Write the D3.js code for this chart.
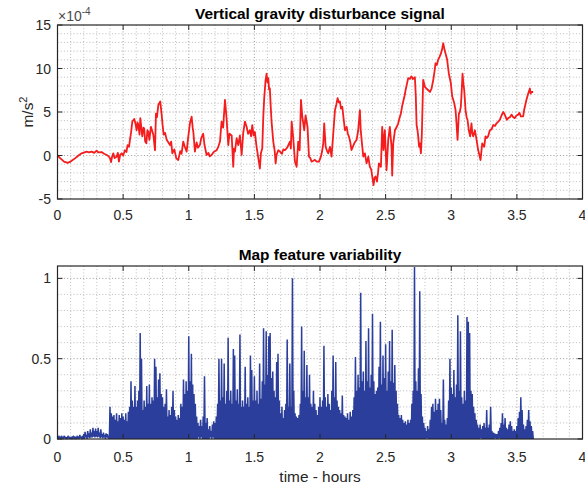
<!DOCTYPE html>
<html>
<head>
<meta charset="utf-8">
<script src="https://cdn.jsdelivr.net/npm/d3@7"></script>
<style>
  body { margin: 0; background: #fff; }
  svg { display: block; font-family: "Liberation Sans", Arial, Helvetica, sans-serif; }
</style>
</head>
<body>
<svg id="fig" width="585" height="487"></svg>
<script>
// ---- Vertical gravity disturbance (units of 1e-4 m/s^2) ----
const gravTime = [
  0.00,0.02,0.05,0.077,0.10,0.133,0.16,0.184,0.222,0.24,0.26,0.28,0.298,0.31,0.336,0.355,0.375,0.39,0.40,0.408,
  0.415,0.425,0.435,0.45,0.46,0.468,0.478,0.489,0.50,0.514,0.525,0.534,0.545,0.552,0.56,0.57,0.585,0.595,0.603,0.61,
  0.616,0.625,0.631,0.64,0.646,0.655,0.661,0.668,0.677,0.685,0.692,0.70,0.712,0.72,0.73,0.743,0.75,0.758,0.768,0.783,
  0.793,0.80,0.809,0.82,0.832,0.845,0.857,0.866,0.875,0.89,0.905,0.92,0.935,0.945,0.958,0.97,0.984,0.995,1.009,1.022,
  1.03,1.035,1.047,1.06,1.07,1.085,1.095,1.11,1.12,1.136,1.15,1.16,1.174,1.19,1.212,1.225,1.238,1.25,1.262,1.276,
  1.288,1.301,1.31,1.327,1.339,1.345,1.352,1.365,1.377,1.39,1.403,1.415,1.428,1.441,1.452,1.466,1.475,1.484,1.494,1.504,
  1.515,1.53,1.542,1.55,1.56,1.568,1.575,1.585,1.593,1.600,1.606,1.612,1.618,1.625,1.631,1.644,1.655,1.662,1.669,1.682,
  1.695,1.71,1.72,1.733,1.75,1.771,1.778,1.784,1.79,1.796,1.803,1.809,1.822,1.834,1.845,1.855,1.865,1.88,1.89,1.905,
  1.916,1.926,1.936,1.95,1.961,1.975,1.992,2.007,2.015,2.025,2.032,2.043,2.052,2.063,2.076,2.088,2.101,2.114,2.125,2.134,
  2.143,2.152,2.16,2.17,2.18,2.19,2.203,2.212,2.22,2.23,2.24,2.25,2.261,2.279,2.291,2.304,2.31,2.317,2.33,2.342,
  2.355,2.368,2.38,2.39,2.398,2.408,2.415,2.423,2.434,2.442,2.449,2.464,2.474,2.484,2.494,2.507,2.52,2.532,2.545,2.55,
  2.558,2.571,2.585,2.596,2.606,2.616,2.625,2.634,2.645,2.652,2.662,2.672,2.685,2.697,2.708,2.718,2.723,2.73,2.736,2.743,
  2.748,2.755,2.761,2.769,2.776,2.786,2.799,2.812,2.825,2.838,2.85,2.863,2.872,2.88,2.89,2.9,2.91,2.921,2.93,2.939,
  2.948,2.957,2.969,2.975,2.982,2.997,3.007,3.015,3.023,3.033,3.04,3.048,3.058,3.065,3.073,3.08,3.086,3.093,3.099,3.109,
  3.117,3.124,3.134,3.144,3.154,3.16,3.167,3.18,3.193,3.205,3.215,3.223,3.236,3.251,3.261,3.27,3.281,3.294,3.307,3.32,
  3.333,3.345,3.358,3.37,3.383,3.396,3.405,3.413,3.424,3.434,3.447,3.459,3.472,3.484,3.497,3.51,3.52,3.53,3.548,3.555,
  3.561,3.573,3.586,3.599,3.605,3.611,3.624
];
const gravValue = [
  0.0,-0.3,-0.7,-0.85,-0.7,-0.33,0.0,0.25,0.44,0.35,0.44,0.3,0.56,0.35,0.4,0.2,0.06,-0.1,-0.33,-0.75,
  -0.2,0.25,-0.3,-0.14,0.3,-0.71,0.1,0.25,0.0,0.6,0.4,1.2,1.0,1.8,2.6,3.9,4.2,3.6,2.9,3.8,
  3.5,2.4,4.3,3.0,2.2,3.2,3.1,1.6,1.4,2.9,2.7,1.8,3.3,2.9,2.4,0.6,4.8,4.4,5.8,6.2,
  4.8,3.6,2.4,2.6,1.8,1.5,1.2,1.6,0.25,0.7,-0.33,-0.52,0.5,0.2,1.6,1.0,0.44,2.0,3.7,4.46,
  3.2,2.7,0.44,1.5,0.9,1.2,2.0,2.5,1.2,0.06,0.3,-0.1,0.06,0.4,0.6,1.0,1.6,3.9,3.2,6.4,
  4.3,1.2,2.5,2.3,-1.3,0.8,0.44,2.0,1.2,2.3,0.06,2.6,3.9,3.3,2.5,2.9,2.2,3.5,2.3,2.7,
  1.2,-0.3,-1.5,0.3,0.8,4.5,6.6,8.6,9.4,8.4,8.9,7.6,7.7,5.5,3.9,1.6,0.5,-0.9,0.06,0.6,
  0.44,0.2,0.7,0.6,0.9,1.6,0.8,3.9,3.0,2.0,0.6,-0.7,-1.3,1.6,0.6,6.4,4.5,2.9,4.6,3.3,
  -0.13,-0.3,-0.7,-0.6,-0.5,-0.7,-0.7,-0.13,0.4,1.4,3.7,1.0,0.6,0.25,1.0,-0.13,2.5,5.2,5.9,6.6,
  6.1,6.2,5.4,5.6,4.2,2.9,3.3,2.5,2.2,1.6,0.63,1.0,1.4,1.8,2.9,5.2,3.0,1.8,-0.13,0.25,
  -0.9,-0.13,-1.3,-1.6,-2.4,-3.4,-2.6,-2.4,-3.0,-2.0,-0.9,-1.3,3.3,0.63,2.9,-1.7,1.8,3.3,1.0,-2.3,
  1.4,2.9,3.3,3.7,4.3,4.8,5.6,6.2,6.9,7.5,8.2,8.9,8.8,9.1,8.8,8.9,9.0,6.8,3.5,2.9,
  2.2,1.0,1.4,0.25,2.5,8.7,7.9,7.7,7.5,7.3,7.7,8.7,9.6,10.6,10.4,11.0,11.3,11.7,12.2,12.9,
  12.2,11.7,11.0,10.2,9.4,8.3,6.8,6.4,6.0,5.2,3.7,1.8,4.8,5.0,5.6,7.5,9.4,8.2,7.5,5.2,
  4.4,4.1,2.9,2.2,3.7,2.6,2.2,2.9,1.8,0.63,0.0,-0.52,1.4,1.0,2.2,2.0,2.2,2.9,3.0,3.5,
  3.4,3.7,3.9,4.1,4.6,5.0,4.8,4.5,4.1,4.3,4.4,4.7,4.4,4.3,4.6,4.7,4.9,4.5,4.5,5.2,
  5.6,6.4,7.1,7.7,7.1,7.3,7.3
];

// ---- Map feature variability, sampled every 0.01 h ----
// featPeak: local maximum in each sample, featFloor: value the trace drops back to
const featStep = 0.01;
const featPeak = [
  0.01,0.02,0.015,0.02,0.01,0.02,0.015,0.01,0.02,0.015,
  0.01,0.015,0.02,0.01,0.015,0.02,0.01,0.025,0.015,0.02,
  0.03,0.045,0.025,0.05,0.035,0.06,0.04,0.07,0.05,0.065,
  0.05,0.07,0.04,0.06,0.03,0.04,0.025,0.035,0.03,0.02,
  0.2,0.16,0.14,0.15,0.12,0.16,0.11,0.15,0.13,0.16,
  0.14,0.12,0.16,0.11,0.17,0.2,0.36,0.24,0.2,0.33,
  0.2,0.24,0.3,0.66,0.5,0.18,0.24,0.2,0.33,0.22,
  0.34,0.22,0.26,0.24,0.5,0.45,0.26,0.37,0.41,0.28,
  0.26,0.2,0.22,0.31,0.14,0.18,0.15,0.2,0.3,0.18,
  0.14,0.12,0.15,0.13,0.22,0.2,0.37,0.28,0.36,0.3,
  0.64,0.36,0.53,0.34,0.28,0.22,0.14,0.1,0.08,0.12,
  0.08,0.14,0.39,0.1,0.13,0.06,0.08,0.05,0.09,0.11,
  0.1,0.14,0.22,0.5,0.24,0.5,0.26,0.47,0.22,0.3,
  0.63,0.24,0.3,0.22,0.56,0.52,0.24,0.31,0.22,0.65,
  0.2,0.24,0.2,0.45,0.22,0.26,0.2,0.52,0.43,0.24,
  0.39,0.24,0.3,0.22,0.47,0.25,0.36,0.69,0.34,0.67,
  0.4,0.64,0.66,0.38,0.42,0.3,0.26,0.48,0.53,0.24,
  0.16,0.2,0.13,0.18,0.22,0.62,0.2,0.47,0.2,1.0,
  0.3,0.16,0.14,0.13,0.15,0.22,0.7,0.3,0.55,0.26,
  0.46,0.26,0.4,0.22,0.2,0.3,0.22,0.18,0.15,0.2,
  0.26,0.2,0.24,0.58,0.26,0.2,0.28,0.22,0.18,0.3,
  0.52,0.26,0.48,0.24,0.2,0.18,0.16,0.27,0.15,0.14,
  0.13,0.16,0.12,0.17,0.14,0.18,0.26,0.51,0.3,0.4,
  0.32,0.91,0.36,0.42,0.3,0.61,0.36,0.69,0.32,0.4,
  0.78,0.36,0.28,0.3,0.32,0.45,0.73,0.34,0.52,0.38,
  0.59,0.3,0.42,0.61,0.36,0.68,0.35,0.46,0.3,0.22,
  0.15,0.13,0.15,0.12,0.1,0.11,0.09,0.12,0.1,0.12,
  0.22,0.3,1.07,0.36,0.3,0.44,0.92,0.28,0.14,0.1,
  0.07,0.05,0.08,0.06,0.12,0.2,0.22,0.17,0.25,0.18,
  0.22,0.25,0.18,0.1,0.37,0.12,0.09,0.13,0.24,0.5,
  0.32,0.28,0.43,0.26,0.34,0.77,0.3,0.67,0.26,0.22,
  0.3,0.24,0.76,0.73,0.66,0.3,0.28,0.2,0.16,0.12,
  0.09,0.07,0.09,0.06,0.08,0.1,0.07,0.18,0.07,0.09,
  0.2,0.05,0.04,0.035,0.03,0.03,0.05,0.07,0.1,0.16,
  0.09,0.13,0.07,0.06,0.09,0.11,0.08,0.05,0.06,0.05,
  0.08,0.13,0.17,0.26,0.18,0.09,0.06,0.08,0.12,0.18,
  0.11,0.08,0.05
];
const featFloor = [
  0,0.005,0,0.01,0,0.005,0,0,0.005,0,
  0,0,0.005,0,0,0.005,0,0.005,0,0,
  0,0.01,0,0.01,0.005,0.01,0.01,0.015,0.01,0.015,
  0.01,0.015,0.005,0.01,0.005,0.01,0,0.01,0.005,0,
  0,0,0,0,0,0,0,0,0,0,
  0,0,0,0,0,0,0,0,0,0,
  0,0,0,0,0,0,0,0,0,0,
  0,0,0,0,0,0,0,0,0,0,
  0,0,0,0,0,0,0,0,0,0,
  0,0,0,0,0,0,0,0,0,0,
  0,0,0,0,0,0,0,0.01,0,0.01,
  0,0,0,0,0,0,0.01,0,0.01,0,
  0,0,0,0,0,0,0,0,0,0,
  0,0,0,0,0,0,0,0,0,0,
  0,0,0,0,0,0,0,0,0,0,
  0,0,0,0,0,0,0,0,0,0,
  0,0,0,0,0,0,0,0,0,0,
  0,0,0,0,0,0,0,0,0,0,
  0,0,0,0,0,0,0,0,0,0,
  0,0,0,0,0,0,0,0,0,0,
  0,0,0,0,0,0,0,0,0,0,
  0,0,0,0,0,0,0,0,0,0,
  0,0,0,0,0,0,0,0,0,0,
  0,0,0,0,0,0,0,0,0,0,
  0,0,0,0,0,0,0,0,0,0,
  0,0,0,0,0,0,0,0,0,0,
  0,0,0,0,0,0,0,0,0,0,
  0,0,0,0,0,0,0,0,0,0,
  0,0.005,0,0,0,0,0,0,0,0,
  0,0,0,0,0,0,0,0,0,0,
  0,0,0,0,0,0,0,0,0,0,
  0,0,0,0,0,0,0,0,0,0,
  0,0,0.005,0,0,0,0,0,0,0,
  0,0,0,0.005,0,0,0.005,0,0,0,
  0,0,0,0,0,0,0,0,0,0,
  0,0,0,0,0,0,0,0,0,0,
  0,0,0
];

// ---- Axis ticks and labels ----
const timeTicks = [0, 0.5, 1, 1.5, 2, 2.5, 3, 3.5, 4];
const gravTicks = [-5, 0, 5, 10, 15];
const featTicks = [0, 0.5, 1];

const svg = d3.select("#fig");
const axisColor = "#262626";
const W = { left: 57.5, right: 582.5 };

const x = d3.scaleLinear().domain([0, 4]).range([W.left, W.right]);
const yGrav = d3.scaleLinear().domain([-5, 15]).range([199, 25]);
const yFeat = d3.scaleLinear().domain([0, 1.077]).range([439, 266]);

function fmt(v) { return String(+v.toFixed(2)); }

function panel(y, yTicks, yMinorStep, yMax) {
  const [y0, y1] = y.domain();
  const top = y.range()[1], bottom = y.range()[0];
  const g = svg.append("g");

  // minor grid
  const xMinor = d3.range(0, 4.0001, 0.1).filter(v => Math.abs(v * 2 - Math.round(v * 2)) > 1e-6);
  const yMinor = d3.range(y0, yMax + 1e-6, yMinorStep).filter(v => !yTicks.some(t => Math.abs(t - v) < 1e-6));
  g.append("g").selectAll("line").data(xMinor).join("line")
    .attr("x1", d => x(d)).attr("x2", d => x(d)).attr("y1", top).attr("y2", bottom)
    .attr("stroke", "#ababab").attr("stroke-width", 0.8).attr("stroke-dasharray", "1,2.2");
  g.append("g").selectAll("line").data(yMinor).join("line")
    .attr("y1", d => y(d)).attr("y2", d => y(d)).attr("x1", W.left).attr("x2", W.right)
    .attr("stroke", "#ababab").attr("stroke-width", 0.8).attr("stroke-dasharray", "1,2.2");
  // major grid
  g.append("g").selectAll("line").data(timeTicks.slice(1, -1)).join("line")
    .attr("x1", d => x(d)).attr("x2", d => x(d)).attr("y1", top).attr("y2", bottom)
    .attr("stroke", "#8f8f8f").attr("stroke-width", 0.9).attr("stroke-dasharray", "1,2.2");
  g.append("g").selectAll("line").data(yTicks.filter(t => t > y0 && t < y1)).join("line")
    .attr("y1", d => y(d)).attr("y2", d => y(d)).attr("x1", W.left).attr("x2", W.right)
    .attr("stroke", "#8f8f8f").attr("stroke-width", 0.9).attr("stroke-dasharray", "1,2.2");
  return g;
}

function frame(y, yTicks, labelY) {
  const top = y.range()[1], bottom = y.range()[0];
  const g = svg.append("g");
  const tl = 5;
  // ticks on all four sides, pointing inward
  timeTicks.forEach(t => {
    g.append("line").attr("x1", x(t)).attr("x2", x(t)).attr("y1", bottom).attr("y2", bottom - tl)
      .attr("stroke", axisColor).attr("stroke-width", 1);
    g.append("line").attr("x1", x(t)).attr("x2", x(t)).attr("y1", top).attr("y2", top + tl)
      .attr("stroke", axisColor).attr("stroke-width", 1);
    g.append("text").attr("x", x(t)).attr("y", bottom + labelY)
      .attr("text-anchor", "middle").attr("font-size", 14).attr("fill", axisColor).text(fmt(t));
  });
  yTicks.forEach(t => {
    g.append("line").attr("x1", W.left).attr("x2", W.left + tl).attr("y1", y(t)).attr("y2", y(t))
      .attr("stroke", axisColor).attr("stroke-width", 1);
    g.append("line").attr("x1", W.right).attr("x2", W.right - tl).attr("y1", y(t)).attr("y2", y(t))
      .attr("stroke", axisColor).attr("stroke-width", 1);
    g.append("text").attr("x", W.left - 6.5).attr("y", y(t)).attr("dy", "0.36em")
      .attr("text-anchor", "end").attr("font-size", 14).attr("fill", axisColor).text(fmt(t));
  });
  g.append("rect").attr("x", W.left).attr("y", top).attr("width", W.right - W.left).attr("height", bottom - top)
    .attr("fill", "none").attr("stroke", axisColor).attr("stroke-width", 1.2);
}

// ---------- top panel: gravity disturbance ----------
panel(yGrav, gravTicks, 1, 15);
const gravLine = d3.line().x(d => x(d[0])).y(d => yGrav(d[1]));
svg.append("path")
  .datum(gravTime.map((t, i) => [t, gravValue[i]]))
  .attr("d", gravLine)
  .attr("fill", "none").attr("stroke", "#f41c1c").attr("stroke-width", 1.8)
  .attr("stroke-linejoin", "round");
frame(yGrav, gravTicks, 21);

svg.append("text").attr("x", (W.left + W.right) / 2).attr("y", 18.5)
  .attr("text-anchor", "middle").attr("font-size", 15.4).attr("font-weight", "bold").attr("fill", "#000")
  .text("Vertical gravity disturbance signal");

const expo = svg.append("text").attr("x", 58).attr("y", 20.5).attr("font-size", 14).attr("fill", "#4a4a4a");
expo.append("tspan").text("×10");
expo.append("tspan").attr("dy", -6).attr("font-size", 10).text("-4");

const yl = svg.append("text").attr("transform", "translate(33,112) rotate(-90)")
  .attr("text-anchor", "middle").attr("font-size", 15.4).attr("fill", axisColor);
yl.append("tspan").text("m/s");
yl.append("tspan").attr("dy", -6).attr("font-size", 11).text("2");

// ---------- bottom panel: feature variability ----------
panel(yFeat, featTicks, 0.1, 1.0);
const featPoints = [];
featPeak.forEach((p, i) => {
  featPoints.push([i * featStep, p]);
  featPoints.push([i * featStep + featStep / 2, featFloor[i]]);
});
const featLine = d3.line().x(d => x(d[0])).y(d => yFeat(d[1]));
svg.append("path")
  .datum(featPoints)
  .attr("d", featLine)
  .attr("fill", "none").attr("stroke", "#2b3e9b").attr("stroke-width", 1.5)
  .attr("stroke-linejoin", "miter").attr("stroke-miterlimit", 2);
frame(yFeat, featTicks, 22.5);

svg.append("text").attr("x", (W.left + W.right) / 2).attr("y", 259.5)
  .attr("text-anchor", "middle").attr("font-size", 15.4).attr("font-weight", "bold").attr("fill", "#000")
  .text("Map feature variability");

svg.append("text").attr("x", (W.left + W.right) / 2).attr("y", 482)
  .attr("text-anchor", "middle").attr("font-size", 15.4).attr("fill", axisColor)
  .text("time - hours");
</script>
</body>
</html>
